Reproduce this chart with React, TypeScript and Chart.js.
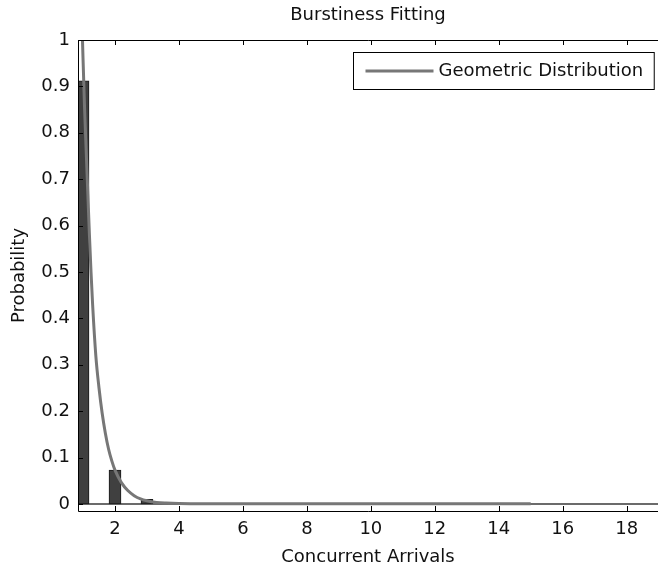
import React, { useEffect, useRef } from 'react';
import { Chart, registerables } from 'chart.js';

Chart.register(...registerables);

// ---- data ----
const barCategories = [1, 2, 3, 4, 5, 6, 7, 8, 9, 10, 11, 12, 13, 14, 15, 16, 17, 18];
const barValues = [0.912, 0.073, 0.01, 0.001, 0, 0, 0, 0, 0, 0, 0, 0, 0, 0, 0, 0, 0, 0];

const curveX = [0.9, 0.95, 1.0, 1.05, 1.1, 1.15, 1.2, 1.25, 1.3, 1.4, 1.5, 1.6, 1.7, 1.8, 1.9, 2.0, 2.2, 2.4, 2.6, 2.8, 3.0, 3.3, 3.6, 4.0, 5.0, 7.0, 10.0, 15.0];
const curveY = [1.2, 1.08, 0.96, 0.85, 0.76, 0.67, 0.58, 0.5, 0.43, 0.32, 0.25, 0.195, 0.152, 0.118, 0.093, 0.073, 0.046, 0.029, 0.018, 0.011, 0.007, 0.0035, 0.002, 0.001, 0.0005, 0.0004, 0.0004, 0.0004];

const baselineX = [0.843, 18.98];
const baselineY = [0, 0];

const xRange = [0.843, 18.98];
const yRange = [-0.0151, 1];
const xTickValues = [2, 4, 6, 8, 10, 12, 14, 16, 18];
const xTickLabels = ['2', '4', '6', '8', '10', '12', '14', '16', '18'];
const yTickValues = [0, 0.1, 0.2, 0.3, 0.4, 0.5, 0.6, 0.7, 0.8, 0.9, 1];
const yTickLabels = ['0', '0.1', '0.2', '0.3', '0.4', '0.5', '0.6', '0.7', '0.8', '0.9', '1'];

const titleText = 'Burstiness Fitting';
const xTitle = 'Concurrent Arrivals';
const yTitle = 'Probability';
const curveLabel = 'Geometric Distribution';

const FONT = 'DejaVu Sans';
const TEXT = '#111111';
const CURVE = '#777777';
const BAR_FILL = '#404040';
const BAR_EDGE = '#1a1a1a';

const framePlugin = {
  id: 'matlabFrame',
  afterDatasetsDraw(chart: any) {
    const { ctx, chartArea } = chart;
    const { left, right, top, bottom } = chartArea;
    const xs = chart.scales.x;
    const ys = chart.scales.y;
    ctx.save();
    ctx.strokeStyle = '#000';
    ctx.lineWidth = 1;
    ctx.beginPath();
    ctx.moveTo(left + 0.5, bottom + 0.5);
    ctx.lineTo(left + 0.5, top + 0.5);
    ctx.lineTo(right + 2, top + 0.5);
    ctx.moveTo(left + 0.5, bottom + 0.5);
    ctx.lineTo(right + 2, bottom + 0.5);
    const tl = 5;
    xTickValues.forEach((v) => {
      const px = Math.round(xs.getPixelForValue(v)) + 0.5;
      ctx.moveTo(px, bottom);
      ctx.lineTo(px, bottom - tl);
      ctx.moveTo(px, top);
      ctx.lineTo(px, top + tl);
    });
    yTickValues.forEach((v) => {
      const py = Math.round(ys.getPixelForValue(v)) + 0.5;
      ctx.moveTo(left, py);
      ctx.lineTo(left + tl, py);
    });
    ctx.stroke();

    // legend box
    ctx.font = `18px "${FONT}"`;
    const tw = ctx.measureText(curveLabel).width;
    const boxW = 12 + 68 + 5 + tw + 11;
    const boxH = 37;
    const bx = Math.round(right - 4 - boxW) + 0.5;
    const by = top + 12 + 0.5;
    ctx.fillStyle = '#fff';
    ctx.fillRect(bx, by, boxW, boxH);
    ctx.strokeStyle = '#000';
    ctx.lineWidth = 1;
    ctx.strokeRect(bx, by, boxW, boxH);
    const cy = by + boxH / 2;
    ctx.strokeStyle = CURVE;
    ctx.lineWidth = 3;
    ctx.beginPath();
    ctx.moveTo(bx + 12, cy);
    ctx.lineTo(bx + 80, cy);
    ctx.stroke();
    ctx.fillStyle = TEXT;
    ctx.textAlign = 'left';
    ctx.textBaseline = 'middle';
    ctx.fillText(curveLabel, bx + 85, cy);
    ctx.restore();
  },
};

export default function App() {
  const ref = useRef<HTMLCanvasElement | null>(null);
  useEffect(() => {
    document.body.style.margin = '0';
    if (!ref.current) return;
    const chart = new Chart(ref.current, {
      type: 'bar',
      data: {
        datasets: [
          {
            type: 'line',
            label: curveLabel,
            data: curveX.map((x, i) => ({ x, y: curveY[i] })),
            borderColor: CURVE,
            borderWidth: 3,
            pointRadius: 0,
            cubicInterpolationMode: 'monotone',
            fill: false,
            clip: 0,
            order: 0,
          } as any,
          {
            type: 'bar',
            label: 'Observed',
            data: barCategories.map((x, i) => ({ x, y: barValues[i] })),
            backgroundColor: BAR_FILL,
            borderColor: BAR_EDGE,
            borderWidth: 1,
            borderSkipped: false,
            barThickness: 12,
            clip: 0,
            order: 1,
          } as any,
          {
            type: 'line',
            label: 'Baseline',
            data: baselineX.map((x, i) => ({ x, y: baselineY[i] })),
            borderColor: '#3a3a3a',
            borderWidth: 1.5,
            pointRadius: 0,
            clip: 0,
            order: 2,
          } as any,
        ],
      },
      options: {
        animation: false,
        responsive: false,
        layout: { padding: 0 },
        font: { family: FONT, size: 18 },
        plugins: {
          legend: { display: false },
          tooltip: { enabled: false },
          title: {
            display: true,
            text: titleText,
            color: TEXT,
            fullSize: false,
            font: { family: FONT, size: 18, weight: 'normal' },
            padding: { top: 5, bottom: 13.4 },
          },
        },
        scales: {
          x: {
            type: 'linear',
            offset: false,
            min: xRange[0],
            max: xRange[1],
            grid: { display: false, drawTicks: false, offset: false },
            border: { display: false },
            afterBuildTicks: (s: any) => {
              s.ticks = xTickValues.map((v) => ({ value: v }));
            },
            afterFit: (s: any) => {
              s.height = 59;
            },
            ticks: {
              color: TEXT,
              font: { family: FONT, size: 18 },
              padding: 8,
              maxRotation: 0,
              autoSkip: false,
              callback: (v: any) => xTickLabels[xTickValues.indexOf(Number(v))] ?? '',
            },
            title: {
              display: true,
              text: xTitle,
              color: TEXT,
              font: { family: FONT, size: 18 },
              padding: { top: 0, bottom: 2 },
            },
          },
          y: {
            type: 'linear',
            min: yRange[0],
            max: yRange[1],
            grid: { display: false, drawTicks: false },
            border: { display: false },
            afterBuildTicks: (s: any) => {
              s.ticks = yTickValues.map((v) => ({ value: v }));
            },
            afterFit: (s: any) => {
              s.width = 78;
            },
            ticks: {
              color: TEXT,
              font: { family: FONT, size: 18 },
              padding: 8,
              autoSkip: false,
              callback: (v: any) => {
                const i = yTickValues.findIndex((t) => Math.abs(t - Number(v)) < 1e-9);
                return i >= 0 ? yTickLabels[i] : '';
              },
            },
            title: {
              display: true,
              text: yTitle,
              color: TEXT,
              font: { family: FONT, size: 18 },
              padding: { top: 9, bottom: 0 },
            },
          },
        },
      } as any,
      plugins: [framePlugin],
    });
    return () => chart.destroy();
  }, []);
  return (
    <div style={{ width: 658, height: 570, background: '#fff' }}>
      <canvas ref={ref} width={658} height={570} style={{ display: 'block' }} />
    </div>
  );
}
